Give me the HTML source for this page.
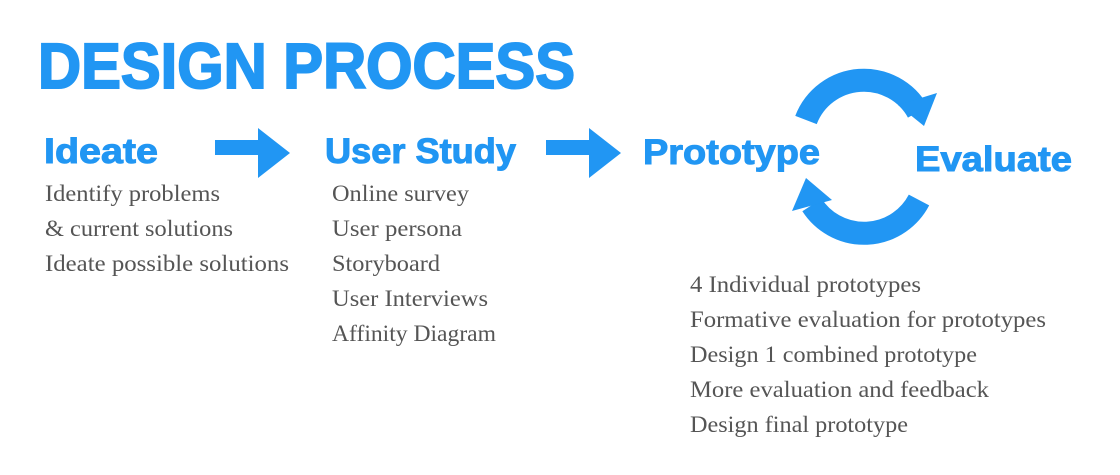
<!DOCTYPE html>
<html><head><meta charset="utf-8"><style>
html,body{margin:0;padding:0;background:#fff;}
svg{display:block}
.h{font-family:"Liberation Sans",sans-serif;font-weight:bold;fill:#2196f3;stroke:#2196f3}
.b{font-family:"Liberation Serif",serif;fill:#555}
</style></head><body>
<svg width="1120" height="475" viewBox="0 0 1120 475">
<text class="h" x="38" y="88" font-size="64" stroke-width="2" textLength="537" lengthAdjust="spacingAndGlyphs">DESIGN PROCESS</text>
<text class="h" x="44" y="163" font-size="35" stroke-width="1" textLength="114" lengthAdjust="spacingAndGlyphs">Ideate</text>
<text class="h" x="325" y="163" font-size="35" stroke-width="1" textLength="191" lengthAdjust="spacingAndGlyphs">User Study</text>
<text class="h" x="643" y="164" font-size="35" stroke-width="1" textLength="177" lengthAdjust="spacingAndGlyphs">Prototype</text>
<text class="h" x="915" y="171" font-size="35" stroke-width="1" textLength="157" lengthAdjust="spacingAndGlyphs">Evaluate</text>
<polygon fill="#2196f3" points="215,140 258,140 258,128 290,153 258,178 258,155 215,155"/>
<polygon fill="#2196f3" points="546,140 589,140 589,128 621,153 589,178 589,155 546,155"/>
<path d="M806,120 A62,62 0 0 1 918,112" fill="none" stroke="#2196f3" stroke-width="23"/>
<polygon fill="#2196f3" points="898,105 937,93 924,126"/>
<path d="M919,200 A62,62 0 0 1 812,205" fill="none" stroke="#2196f3" stroke-width="23"/>
<polygon fill="#2196f3" points="832,200 792,211 806,178"/>
<g class="b" font-size="23" lengthAdjust="spacingAndGlyphs">
<text x="45" y="201" textLength="175" lengthAdjust="spacingAndGlyphs">Identify problems</text>
<text x="45" y="236" textLength="188" lengthAdjust="spacingAndGlyphs">&amp; current solutions</text>
<text x="45" y="271" textLength="244" lengthAdjust="spacingAndGlyphs">Ideate possible solutions</text>
<text x="332" y="201" textLength="137" lengthAdjust="spacingAndGlyphs">Online survey</text>
<text x="332" y="236" textLength="130" lengthAdjust="spacingAndGlyphs">User persona</text>
<text x="332" y="271" textLength="108" lengthAdjust="spacingAndGlyphs">Storyboard</text>
<text x="332" y="306" textLength="156" lengthAdjust="spacingAndGlyphs">User Interviews</text>
<text x="332" y="341" textLength="164" lengthAdjust="spacingAndGlyphs">Affinity Diagram</text>
<text x="690" y="292" textLength="231" lengthAdjust="spacingAndGlyphs">4 Individual prototypes</text>
<text x="690" y="327" textLength="356" lengthAdjust="spacingAndGlyphs">Formative evaluation for prototypes</text>
<text x="690" y="362" textLength="287" lengthAdjust="spacingAndGlyphs">Design 1 combined prototype</text>
<text x="690" y="397" textLength="299" lengthAdjust="spacingAndGlyphs">More evaluation and feedback</text>
<text x="690" y="432" textLength="218" lengthAdjust="spacingAndGlyphs">Design final prototype</text>
</g>
</svg>
</body></html>
